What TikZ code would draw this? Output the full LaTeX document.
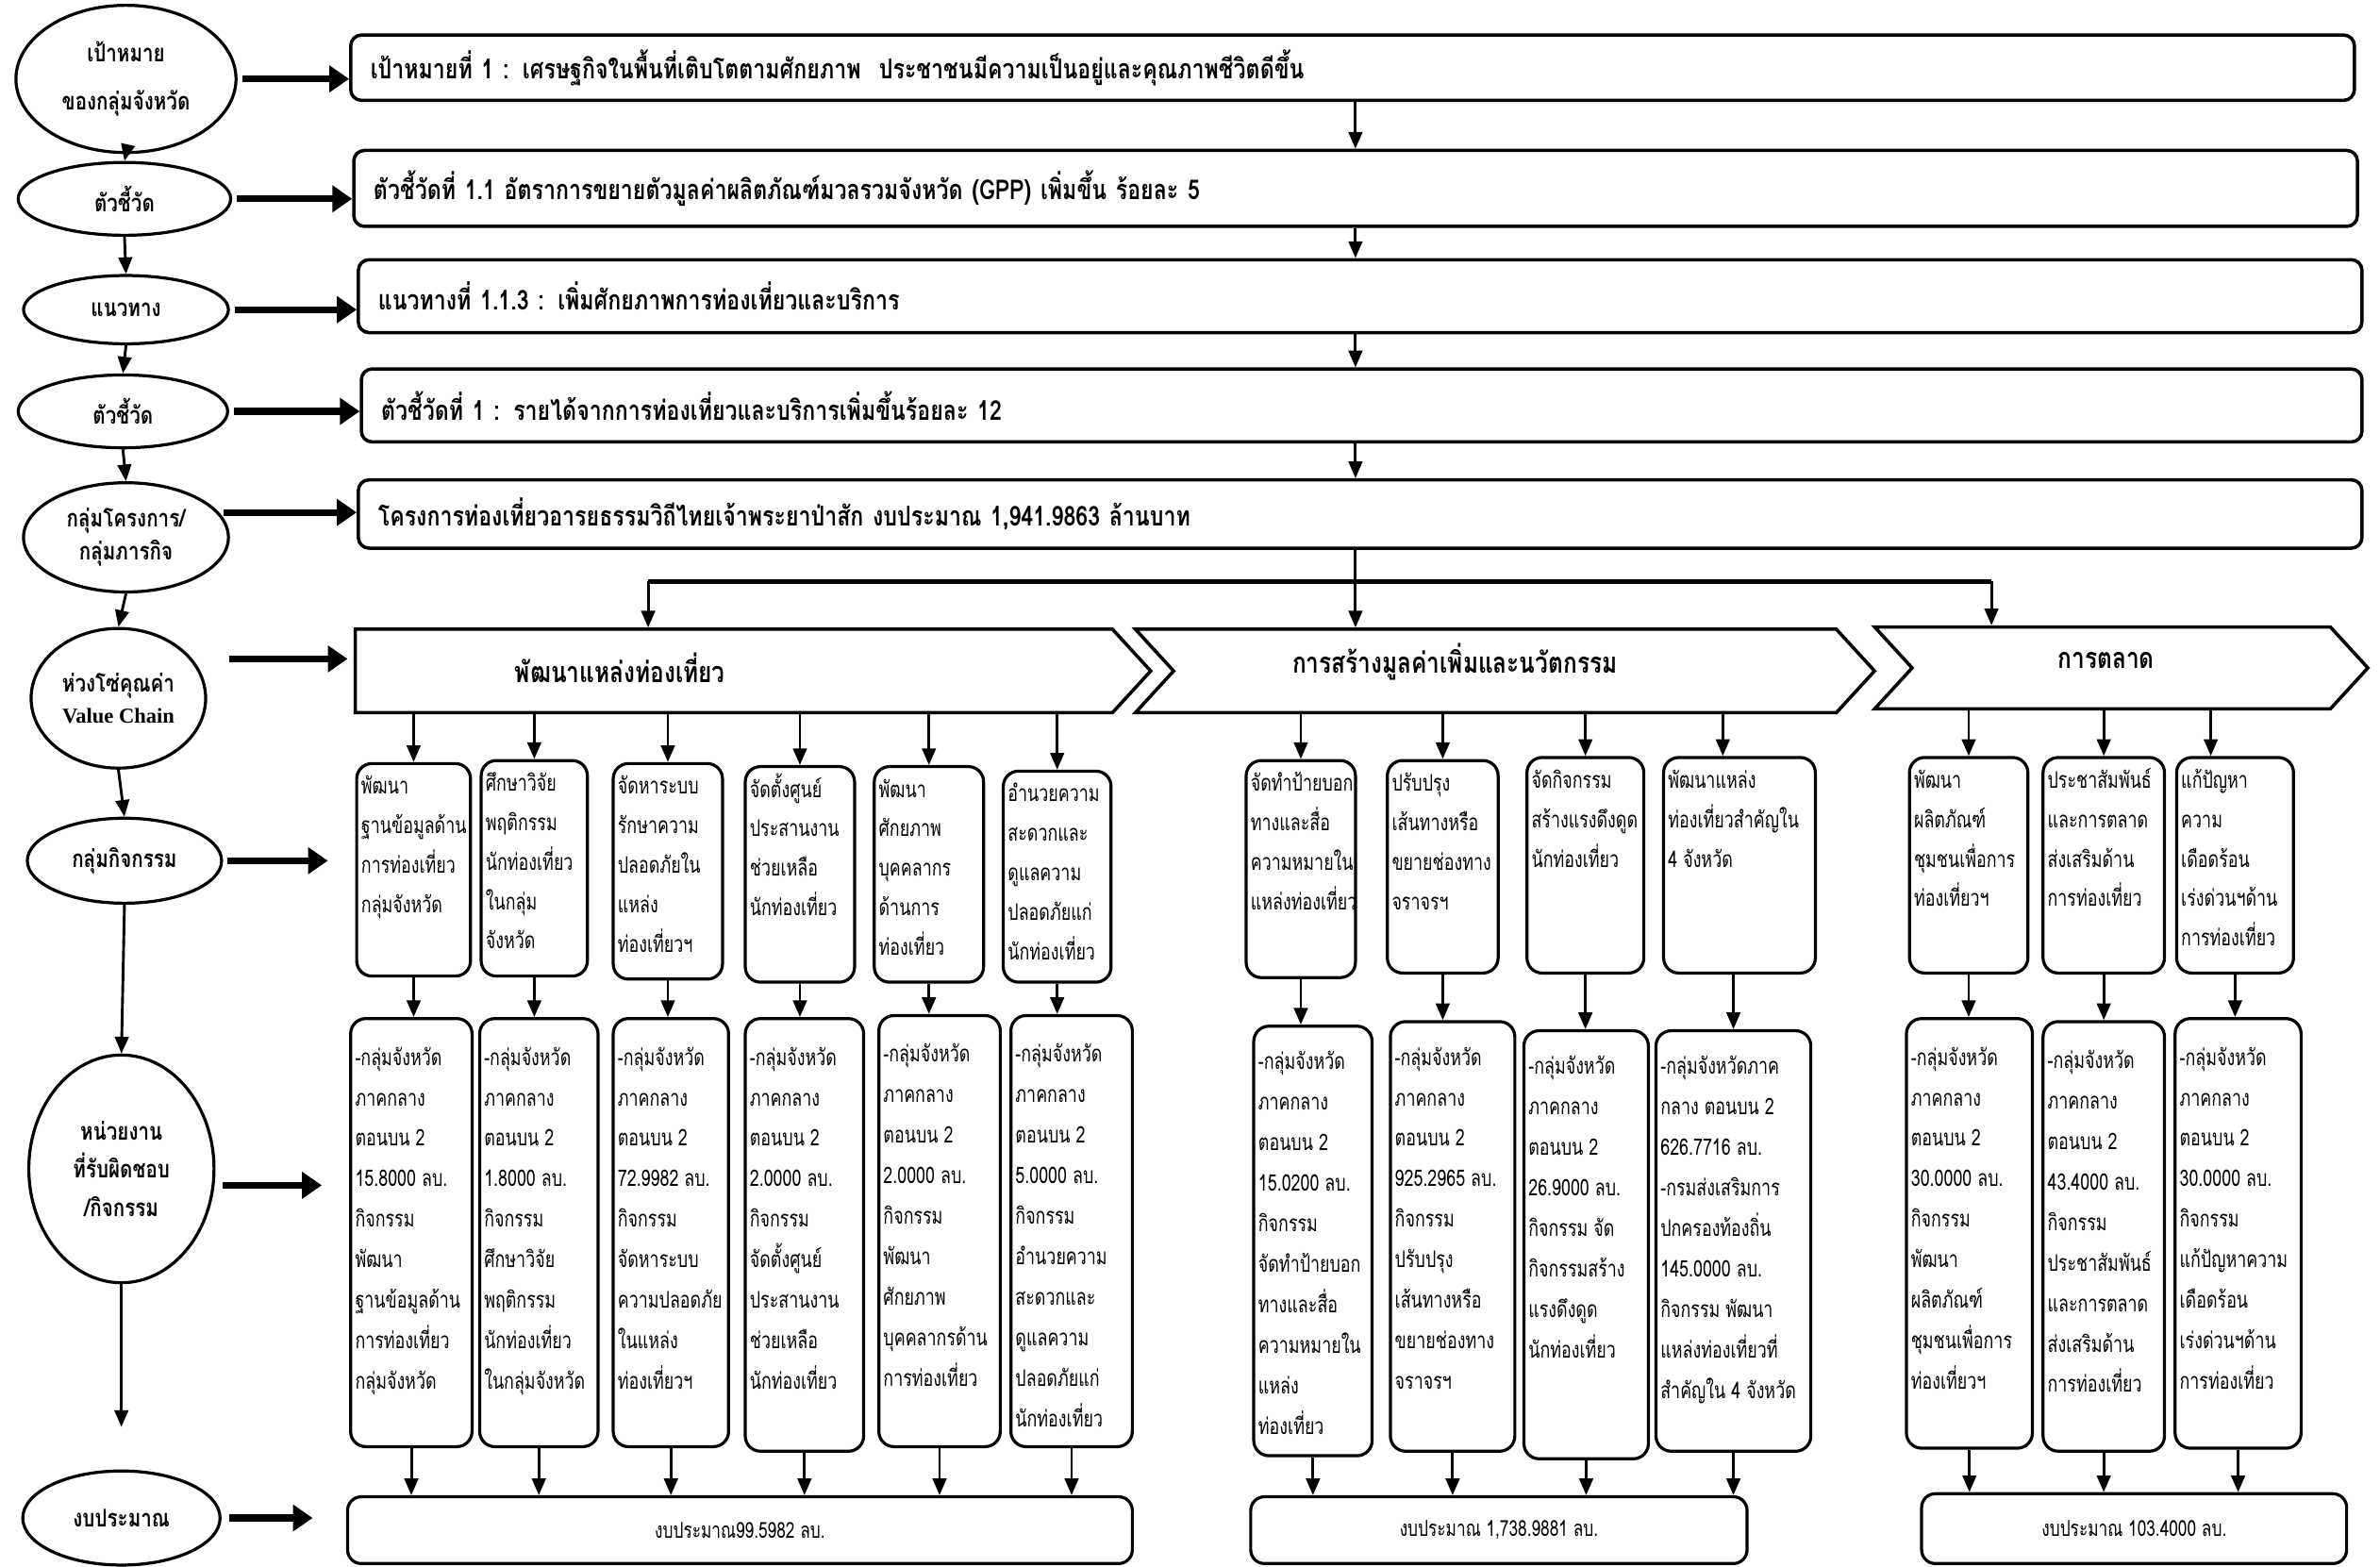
\documentclass[tikz,border=0pt]{standalone}
\usepackage{fontspec}
\setmainfont{Liberation Serif}
\newfontfamily\thai[Script=Thai,FakeStretch=0.8]{Loma}
\newfontfamily\thain[Script=Thai,FakeStretch=0.74]{Loma}
\usetikzlibrary{arrows.meta,shapes.geometric,shapes.symbols,calc}
\newcommand{\actnode}[8]{%
  \node[#1, minimum width=#5pt, minimum height=#6pt] (#2) at (#3,#4)
   {\parbox[c][\dimexpr#6pt-4pt\relax][t]{\dimexpr#5pt-6pt\relax}{\raggedright\vspace*{#7pt}\strut #8}};}
\tikzset{
  ell/.style={ellipse, draw, line width=2pt, inner sep=0pt, align=center,
    font={\thai\bfseries\fontsize{16}{20}\selectfont}},
  topbar/.style={draw, line width=2.2pt, rounded corners=7pt, anchor=north west,
    inner xsep=13pt, inner ysep=0pt, align=left,
    font={\thai\bfseries\fontsize{18}{22}\selectfont}},
  actbox/.style={draw, line width=2pt, rounded corners=10pt, anchor=north west,
    inner xsep=3pt, inner ysep=2pt, font={\thain\fontsize{15}{26}\selectfont}},
  lowbox/.style={actbox, font={\thain\fontsize{15}{26.7}\selectfont}},
  chev/.style={signal, draw, line width=2.2pt, signal to=east, signal pointer angle=95,
    minimum height=55pt, inner sep=0pt},
  chtxt/.style={font={\thai\bfseries\fontsize{19}{22}\selectfont}},
  budg/.style={draw, line width=2pt, rounded corners=9pt, anchor=north west,
    font={\thain\fontsize{14.5}{16}\selectfont}},
  fat/.style={line width=4.5pt, -{Triangle[length=13pt,width=17pt]}, shorten <=3pt},
  varr/.style={line width=1.8pt, -{Triangle[length=11pt,width=9pt]}},
}
\begin{document}
\begin{tikzpicture}[x=1pt,y=-1pt]
\fill[white] (0,0) rectangle (1568,1032);
\useasboundingbox (0,0) rectangle (1568,1032);

% left column
\node[ell, minimum width=145pt, minimum height=97pt, font={\thai\bfseries\fontsize{16}{32}\selectfont}] (e1) at (83,52) {เป้าหมาย\\ของกลุ่มจังหวัด};
\node[ell, minimum width=140pt, minimum height=48pt] (e2) at (82,131) {ตัวชี้วัด};
\node[ell, minimum width=135pt, minimum height=45pt] (e3) at (83,204) {แนวทาง};
\node[ell, minimum width=138pt, minimum height=48pt] (e4) at (81,271) {ตัวชี้วัด};
\node[ell, minimum width=135pt, minimum height=72pt, font={\thai\bfseries\fontsize{16}{22}\selectfont}] (e5) at (83,354) {กลุ่มโครงการ/\\กลุ่มภารกิจ};
\node[ell, minimum width=115pt, minimum height=92pt, font={\thai\bfseries\fontsize{16}{21}\selectfont}] (e6) at (78,460) {ห่วงโซ่คุณค่า\\{\rmfamily\bfseries\fontsize{14}{16}\selectfont Value Chain}};
\node[ell, minimum width=128pt, minimum height=56pt] (e7) at (82,567) {กลุ่มกิจกรรม};
\node[ell, minimum width=122pt, minimum height=150pt, font={\thai\bfseries\fontsize{16}{25}\selectfont}] (e8) at (80,770) {หน่วยงาน\\ที่รับผิดชอบ\\/กิจกรรม};
\node[ell, minimum width=130pt, minimum height=62pt] (e9) at (80,1000) {งบประมาณ};

\draw[varr] (e1.south) -- (e2.north);
\draw[varr] (e2.south) -- (e3.north);
\draw[varr] (e3.south) -- (e4.north);
\draw[varr] (e4.south) -- (e5.north);
\draw[varr] (e5.south) -- (e6.north);
\draw[varr] (e6.south) -- (e7.north);
\draw[varr] (e7.south) -- (e8.north);
\draw[varr, shorten >=28pt] (e8.south) -- (e9.north);

% top bars
\node[topbar, minimum width=1320pt, minimum height=43pt, text width=1294pt] (p1) at (230,22) {เป้าหมายที่ 1 : เศรษฐกิจในพื้นที่เติบโตตามศักยภาพ\ \ ประชาชนมีความเป็นอยู่และคุณภาพชีวิตดีขึ้น};
\node[topbar, minimum width=1320pt, minimum height=50pt, text width=1294pt] (p2) at (232,98) {ตัวชี้วัดที่ 1.1 อัตราการขยายตัวมูลค่าผลิตภัณฑ์มวลรวมจังหวัด (GPP) เพิ่มขึ้น ร้อยละ 5};
\node[topbar, minimum width=1320pt, minimum height=48pt, text width=1294pt] (p3) at (235,170) {แนวทางที่ 1.1.3 : เพิ่มศักยภาพการท่องเที่ยวและบริการ};
\node[topbar, minimum width=1318pt, minimum height=48pt, text width=1292pt] (p4) at (237,242) {ตัวชี้วัดที่ 1 : รายได้จากการท่องเที่ยวและบริการเพิ่มขึ้นร้อยละ 12};
\node[topbar, minimum width=1320pt, minimum height=45pt, text width=1294pt, inner xsep=6pt] (p5) at (235,315) {โครงการท่องเที่ยวอารยธรรมวิถีไทยเจ้าพระยาป่าสัก งบประมาณ 1,941.9863 ล้านบาท};

\coordinate (spine) at (893,0);
\draw[varr] (p1.south -| spine) -- (p2.north -| spine);
\draw[varr] (p2.south -| spine) -- (p3.north -| spine);
\draw[varr] (p3.south -| spine) -- (p4.north -| spine);
\draw[varr] (p4.south -| spine) -- (p5.north -| spine);

% value chain
\node[chev, minimum width=524pt] (ch1) at (483.5,442) {};
\node[chev, signal from=west, minimum width=487pt] (ch2) at (991.5,442) {};
\node[chev, signal from=west, minimum width=325pt, minimum height=54pt] (ch3) at (1397.5,440) {};
\node[chtxt] (t1) at ([xshift=-75pt, yshift=2pt]ch1.center) {พัฒนาแหล่งท่องเที่ยว};
\node[chtxt] (t2) at ([xshift=-33pt, yshift=6pt]ch2.center) {การสร้างมูลค่าเพิ่มและนวัตกรรม};
\node[chtxt] (t3) at ([xshift=-10pt, yshift=5pt]ch3.center) {การตลาด};

\coordinate (j1) at (427,383);
\coordinate (j3) at (1312,383);
\draw[varr] (p5.south -| spine) -- (ch2.north -| spine);
\draw[line width=3.2pt] (j1) -- (j3);
\draw[varr] (j1) -- (j1 |- ch1.north);
\draw[varr] (j3) -- (j3 |- ch3.north);

% activity boxes
\actnode{actbox}{a1}{234}{502}{75}{140}{0}{พัฒนา\\ฐานข้อมูลด้าน\\การท่องเที่ยว\\กลุ่มจังหวัด}
\actnode{actbox}{a2}{316}{500}{70}{142}{0}{ศึกษาวิจัย\\พฤติกรรม\\นักท่องเที่ยว\\ในกลุ่ม\\จังหวัด}
\actnode{actbox}{a3}{403}{502}{72}{142}{0}{จัดหาระบบ\\รักษาความ\\ปลอดภัยใน\\แหล่ง\\ท่องเที่ยวฯ}
\actnode{actbox}{a4}{490}{504}{72}{142}{0}{จัดตั้งศูนย์\\ประสานงาน\\ช่วยเหลือ\\นักท่องเที่ยว}
\actnode{actbox}{a5}{575}{504}{72}{142}{0}{พัฒนา\\ศักยภาพ\\บุคคลากร\\ด้านการ\\ท่องเที่ยว}
\actnode{actbox}{a6}{660}{507}{71}{139}{0}{อำนวยความ\\สะดวกและ\\ดูแลความ\\ปลอดภัยแก่\\นักท่องเที่ยว}
\actnode{actbox}{b1}{820}{500}{72}{143}{0}{จัดทำป้ายบอก\\ทางและสื่อ\\ความหมายใน\\แหล่งท่องเที่ยว}
\actnode{actbox}{b2}{913}{500}{73}{140}{0}{ปรับปรุง\\เส้นทางหรือ\\ขยายช่องทาง\\จราจรฯ}
\actnode{actbox}{b3}{1005}{498}{77}{142}{0}{จัดกิจกรรม\\สร้างแรงดึงดูด\\นักท่องเที่ยว}
\actnode{actbox}{b4}{1095}{498}{100}{142}{0}{พัฒนาแหล่ง\\ท่องเที่ยวสำคัญใน\\4 จังหวัด}
\actnode{actbox}{c1}{1257}{498}{78}{142}{0}{พัฒนา\\ผลิตภัณฑ์\\ชุมชนเพื่อการ\\ท่องเที่ยวฯ}
\actnode{actbox}{c2}{1345}{498}{80}{142}{0}{ประชาสัมพันธ์\\และการตลาด\\ส่งเสริมด้าน\\การท่องเที่ยว}
\actnode{actbox}{c3}{1433}{498}{77}{142}{0}{แก้ปัญหา\\ความ\\เดือดร้อน\\เร่งด่วนฯด้าน\\การท่องเที่ยว}

\foreach \n in {a1,a2,a3,a4,a5,a6} \draw[varr] (ch1.south -| \n.north) -- (\n.north);
\foreach \n in {b1,b2,b3} \draw[varr] (ch2.south -| \n.north) -- (\n.north);
\coordinate (b4in) at ([xshift=-11pt]b4.north);
\draw[varr] (ch2.south -| b4in) -- (b4in);
\foreach \n in {c1,c2} \draw[varr] (ch3.south -| \n.north) -- (\n.north);
\coordinate (c3in) at ([xshift=-16pt]c3.north);
\draw[varr] (ch3.south -| c3in) -- (c3in);

% responsible units
\actnode{lowbox}{u1}{230}{670}{80}{282}{10}{-กลุ่มจังหวัด\\ภาคกลาง\\ตอนบน 2\\15.8000 ลบ.\\กิจกรรม\\พัฒนา\\ฐานข้อมูลด้าน\\การท่องเที่ยว\\กลุ่มจังหวัด}
\actnode{lowbox}{u2}{315}{670}{78}{282}{10}{-กลุ่มจังหวัด\\ภาคกลาง\\ตอนบน 2\\1.8000 ลบ.\\กิจกรรม\\ศึกษาวิจัย\\พฤติกรรม\\นักท่องเที่ยว\\ในกลุ่มจังหวัด}
\actnode{lowbox}{u3}{403}{670}{76}{282}{10}{-กลุ่มจังหวัด\\ภาคกลาง\\ตอนบน 2\\72.9982 ลบ.\\กิจกรรม\\จัดหาระบบ\\ความปลอดภัย\\ในแหล่ง\\ท่องเที่ยวฯ}
\actnode{lowbox}{u4}{490}{670}{78}{285}{10}{-กลุ่มจังหวัด\\ภาคกลาง\\ตอนบน 2\\2.0000 ลบ.\\กิจกรรม\\จัดตั้งศูนย์\\ประสานงาน\\ช่วยเหลือ\\นักท่องเที่ยว}
\actnode{lowbox}{u5}{578}{668}{80}{284}{10}{-กลุ่มจังหวัด\\ภาคกลาง\\ตอนบน 2\\2.0000 ลบ.\\กิจกรรม\\พัฒนา\\ศักยภาพ\\บุคคลากรด้าน\\การท่องเที่ยว}
\actnode{lowbox}{u6}{665}{668}{80}{284}{10}{-กลุ่มจังหวัด\\ภาคกลาง\\ตอนบน 2\\5.0000 ลบ.\\กิจกรรม\\อำนวยความ\\สะดวกและ\\ดูแลความ\\ปลอดภัยแก่\\นักท่องเที่ยว}
\actnode{lowbox}{v1}{825}{675}{78}{283}{8}{-กลุ่มจังหวัด\\ภาคกลาง\\ตอนบน 2\\15.0200 ลบ.\\กิจกรรม\\จัดทำป้ายบอก\\ทางและสื่อ\\ความหมายใน\\แหล่ง\\ท่องเที่ยว}
\actnode{lowbox}{v2}{915}{672}{82}{283}{8}{-กลุ่มจังหวัด\\ภาคกลาง\\ตอนบน 2\\925.2965 ลบ.\\กิจกรรม\\ปรับปรุง\\เส้นทางหรือ\\ขยายช่องทาง\\จราจรฯ}
\actnode{lowbox}{v3}{1003}{678}{82}{282}{8}{-กลุ่มจังหวัด\\ภาคกลาง\\ตอนบน 2\\26.9000 ลบ.\\กิจกรรม จัด\\กิจกรรมสร้าง\\แรงดึงดูด\\นักท่องเที่ยว}
\actnode{lowbox}{v4}{1090}{678}{102}{277}{8}{-กลุ่มจังหวัดภาค\\กลาง ตอนบน 2\\626.7716 ลบ.\\-กรมส่งเสริมการ\\ปกครองท้องถิ่น\\145.0000 ลบ.\\กิจกรรม พัฒนา\\แหล่งท่องเที่ยวที่\\สำคัญใน 4 จังหวัด}
\actnode{lowbox}{w1}{1255}{670}{83}{283}{10}{-กลุ่มจังหวัด\\ภาคกลาง\\ตอนบน 2\\30.0000 ลบ.\\กิจกรรม\\พัฒนา\\ผลิตภัณฑ์\\ชุมชนเพื่อการ\\ท่องเที่ยวฯ}
\actnode{lowbox}{w2}{1345}{672}{80}{283}{10}{-กลุ่มจังหวัด\\ภาคกลาง\\ตอนบน 2\\43.4000 ลบ.\\กิจกรรม\\ประชาสัมพันธ์\\และการตลาด\\ส่งเสริมด้าน\\การท่องเที่ยว}
\actnode{lowbox}{w3}{1432}{670}{83}{283}{10}{-กลุ่มจังหวัด\\ภาคกลาง\\ตอนบน 2\\30.0000 ลบ.\\กิจกรรม\\แก้ปัญหาความ\\เดือดร้อน\\เร่งด่วนฯด้าน\\การท่องเที่ยว}

\foreach \a/\u in {a1/u1,a2/u2,a3/u3,a4/u4,a5/u5,a6/u6,b1/v1,b2/v2,b3/v3,c1/w1,c2/w2,c3/w3}
  \draw[varr] (\a.south) -- (\a.south |- \u.north);
\draw[varr] (b4.south -| v4.north) -- (v4.north);

% budgets
\node[budg, minimum width=517pt, minimum height=44pt] (g1) at (228,985) {งบประมาณ99.5982 ลบ.};
\node[budg, minimum width=327pt, minimum height=44pt] (g2) at (823,985) {งบประมาณ 1,738.9881 ลบ.};
\node[budg, minimum width=280pt, minimum height=46pt] (g3) at (1265,983) {งบประมาณ 103.4000 ลบ.};

\foreach \u in {u1,u2,u3,u4,u5,u6} \draw[varr] (\u.south) -- (\u.south |- g1.north);
\foreach \u in {v1,v2,v3,v4} \draw[varr] (\u.south) -- (\u.south |- g2.north);
\foreach \u in {w1,w2,w3} \draw[varr] (\u.south) -- (\u.south |- g3.north);

% horizontal fat arrows
\draw[fat] (e1.east) -- (e1.east -| p1.west);
\draw[fat] (e2.east) -- (e2.east -| p2.west);
\draw[fat] (e3.east) -- (e3.east -| p3.west);
\draw[fat] (e4.east) -- (e4.east -| p4.west);
\draw[fat] (e5.15) -- (e5.15 -| p5.west);
\draw[fat, shorten <=24pt, shorten >=4pt] (e6.28) -- (e6.28 -| ch1.west);
\draw[fat, shorten >=18pt] (e7.east) -- (e7.east -| a1.west);
\draw[fat, shorten <=5pt, shorten >=18pt] (e8.-10) -- (e8.-10 -| u1.west);
\draw[fat, shorten <=5pt, shorten >=22pt] (e9.east) -- (e9.east -| g1.west);
\end{tikzpicture}
\end{document}
